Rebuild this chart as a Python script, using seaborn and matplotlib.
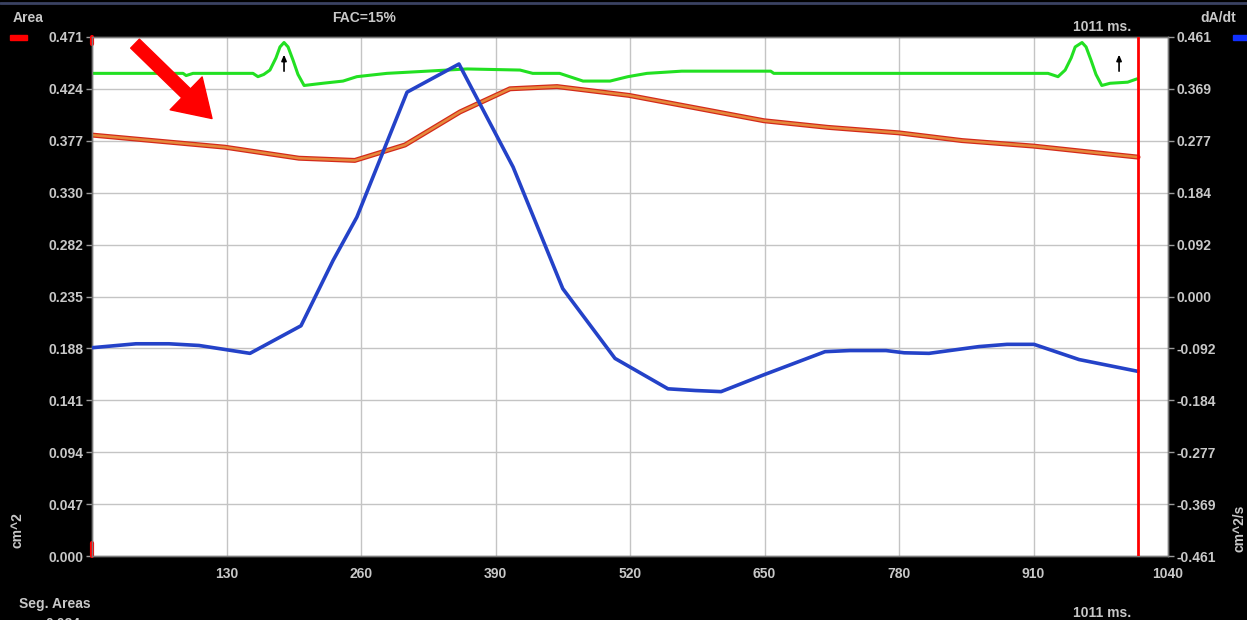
import numpy as np
import pandas as pd
import seaborn as sns
import matplotlib
matplotlib.use("Agg")
import matplotlib.pyplot as plt
from matplotlib.patches import Rectangle
from matplotlib.lines import Line2D

# ---- data -----------------------------------------------------------------
# Area trace (left axis, cm^2)
area_t = [0, 128.5, 200, 254, 302.5, 355.7, 404, 449.5, 519, 649.5, 711, 780,
          841, 910, 970, 1011]
area_v = [0.382, 0.371, 0.361, 0.359, 0.373, 0.403, 0.424, 0.426, 0.418, 0.395,
          0.389, 0.384, 0.377, 0.372, 0.366, 0.362]

# dA/dt trace (right axis, cm^2/s)
dadt_t = [0, 42.5, 74.4, 103.4, 152.7, 202, 233, 256, 304.5, 354.7, 407, 455,
          505.5, 556.7, 583, 608, 649.5, 708.5, 732.6, 767.4, 785, 809, 857.3,
          884.4, 910.5, 954, 1011]
dadt_v = [-0.091, -0.084, -0.084, -0.087, -0.101, -0.052, 0.064, 0.141, 0.363,
          0.413, 0.230, 0.014, -0.110, -0.164, -0.167, -0.169, -0.139, -0.098,
          -0.096, -0.096, -0.100, -0.101, -0.089, -0.085, -0.085, -0.112, -0.133]

# ECG reference trace, drawn in the top band of the area scale
ecg_t = [0, 88, 91, 97.6, 155.6, 160.4, 166, 172, 177.8, 181.7, 185.6, 189.5,
         194.3, 199.1, 205, 223, 242.6, 256, 285, 324, 362.5, 413.7, 426, 452,
         474.6, 500.7, 518, 536.4, 570, 656, 659, 924, 933.7, 940.6, 946.4,
         950.3, 956.9, 960.8, 965.6, 970.4, 976, 984, 1001, 1010]
ecg_v = [0.438, 0.438, 0.436, 0.438, 0.438, 0.435, 0.437, 0.441, 0.452, 0.462,
         0.466, 0.462, 0.450, 0.437, 0.427, 0.429, 0.431, 0.435, 0.438, 0.440,
         0.442, 0.441, 0.438, 0.438, 0.431, 0.431, 0.435, 0.438, 0.440, 0.440,
         0.438, 0.438, 0.435, 0.441, 0.452, 0.462, 0.466, 0.462, 0.450, 0.437,
         0.427, 0.429, 0.430, 0.433]

r_wave_times = [185.6, 992.7]
cursor_ms = 1011

area_max = 0.471
dadt_max = 0.461
x_ticks = [130, 260, 390, 520, 650, 780, 910, 1040]
left_tick_labels = ["0.000", "0.047", "0.094", "0.141", "0.188", "0.235",
                    "0.282", "0.330", "0.377", "0.424", "0.471"]
right_tick_labels = ["-0.461", "-0.369", "-0.277", "-0.184", "-0.092", "0.000",
                     "0.092", "0.184", "0.277", "0.369", "0.461"]

# ---- style ----------------------------------------------------------------
sns.set_style("white")
plt.rcParams["font.family"] = ["Liberation Sans", "DejaVu Sans"]
plt.rcParams["font.weight"] = "bold"
plt.rcParams["axes.unicode_minus"] = False

TXT = "#c8c8c8"
W, H = 1247, 620
fig = plt.figure(figsize=(W / 100, H / 100), dpi=100, facecolor="black")
ax = fig.add_axes([92 / W, 1 - 556 / H, 1076 / W, 519 / H])
ax.set_facecolor("white")

area_df = pd.DataFrame({"t": area_t, "v": area_v})
dadt_df = pd.DataFrame({"t": dadt_t, "v": dadt_v})
ecg_df = pd.DataFrame({"t": ecg_t, "v": ecg_v})

# grid
y_ticks = np.linspace(0, area_max, len(left_tick_labels))
for y in y_ticks[1:-1]:
    ax.axhline(y, color="#c4c4c4", lw=1, zorder=0)
for x in x_ticks[:-1]:
    ax.axvline(x, color="#c4c4c4", lw=1, zorder=0)

# area curve: red outline with an orange core
sns.lineplot(data=area_df, x="t", y="v", ax=ax, color="#d42a1a", lw=3.6,
             sort=False, estimator=None, zorder=3)
sns.lineplot(data=area_df, x="t", y="v", ax=ax, color="#e58a3c", lw=1.8,
             sort=False, estimator=None, zorder=4)
sns.lineplot(data=ecg_df, x="t", y="v", ax=ax, color="#22e022", lw=2.2,
             sort=False, estimator=None, zorder=3)

for t in r_wave_times:
    ax.annotate("", xy=(t, 0.455), xytext=(t, 0.440),
                arrowprops=dict(arrowstyle="-|>,head_length=0.35,head_width=0.15",
                                color="black", lw=1.2, shrinkA=0, shrinkB=0),
                zorder=5)

# big pointer arrow
ax.annotate("", xy=(116, 0.397), xytext=(41.6, 0.465),
            arrowprops=dict(arrowstyle="simple,head_length=1.3,head_width=1.65,tail_width=0.45",
                            color="#ff0000", shrinkA=0, shrinkB=0, mutation_scale=20),
            zorder=6)

ax.set_xlim(0, 1040)
ax.set_ylim(0, area_max)
ax.set_xticks(x_ticks)
ax.set_xticklabels([str(v) for v in x_ticks])
ax.set_yticks(y_ticks)
ax.set_yticklabels(left_tick_labels)
ax.set_xlabel("")
ax.set_ylabel("")
ax.tick_params(axis="both", colors="#9a9a9a", labelcolor=TXT, labelsize=10,
               length=4, width=1, direction="out")
ax.tick_params(axis="x", pad=4)
ax.tick_params(axis="y", pad=2)
for lab in ax.get_xticklabels() + ax.get_yticklabels():
    lab.set_fontweight("bold")

ax2 = ax.twinx()
sns.lineplot(data=dadt_df, x="t", y="v", ax=ax2, color="#2442c8", lw=2.6,
             sort=False, estimator=None, zorder=4)
ax2.axvline(cursor_ms, color="#ff0000", lw=2, zorder=6)
ax2.set_ylim(-dadt_max, dadt_max)
r_ticks = np.linspace(-dadt_max, dadt_max, len(right_tick_labels))
ax2.set_yticks(r_ticks)
ax2.set_yticklabels(right_tick_labels)
ax2.set_ylabel("")
ax2.tick_params(axis="y", colors="#9a9a9a", labelcolor=TXT, labelsize=10,
                length=4, width=1, direction="out", pad=2)
for lab in ax2.get_yticklabels():
    lab.set_fontweight("bold")

for a in (ax, ax2):
    for s in a.spines.values():
        s.set_color("#7a7a7a")
        s.set_linewidth(1)

# red markers at the ends of the area scale
ax.plot([0, 0], [0, 0.012], color="#ff0000", lw=3, clip_on=False, zorder=7)
ax.plot([0, 0], [area_max - 0.006, area_max], color="#ff0000", lw=3,
        clip_on=False, zorder=7)

# ---- surrounding labels ---------------------------------------------------
def ftext(x, y, s, **kw):
    kw.setdefault("color", TXT)
    kw.setdefault("fontsize", 10)
    kw.setdefault("fontweight", "bold")
    fig.text(x / W, 1 - y / H, s, **kw)

ftext(13, 18, "Area", ha="left", va="center")
ftext(364, 18, "FAC=15%", ha="center", va="center")
ftext(1218, 18, "dA/dt", ha="center", va="center")
ftext(1102, 27, "1011 ms.", ha="center", va="center")
ftext(18, 530, "cm^2", ha="center", va="center", rotation=90)
ftext(1240, 528, "cm^2/s", ha="center", va="center", rotation=90)
ftext(19, 604, "Seg. Areas", ha="left", va="center")
ftext(63, 624, "0.084", ha="center", va="center")
ftext(1102, 613, "1011 ms.", ha="center", va="center")

fig.patches.append(Rectangle((10 / W, 1 - 40 / H), 17 / W, 5 / H,
                             transform=fig.transFigure, color="#ff0000"))
fig.patches.append(Rectangle((1233 / W, 1 - 40 / H), 14 / W, 5 / H,
                             transform=fig.transFigure, color="#1030ff"))
fig.lines.append(Line2D([0, 1], [1 - 3 / H, 1 - 3 / H], transform=fig.transFigure,
                        color="#3a4262", lw=2))

fig.savefig("out.png", dpi=100, facecolor="black")
